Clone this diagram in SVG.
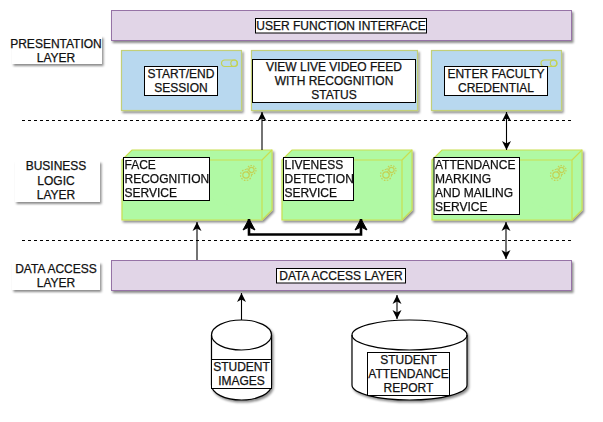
<svg xmlns="http://www.w3.org/2000/svg" width="603" height="422" viewBox="0 0 603 422">
<style>
text{font-family:"Liberation Sans",Arial,sans-serif;font-size:12px;fill:#111;stroke:#111;stroke-width:0.25;text-anchor:middle}
text.l{text-anchor:start}
.bar{fill:#e1d5e7;stroke:#9673a6;stroke-width:1;filter:url(#sh)}
.app{fill:#b8d8ef;stroke:#c3cf78;stroke-width:1.2;filter:url(#sh)}
.nd{fill:#b0f9a4;stroke:#c9df50;stroke-width:1.2}
.ndg{filter:url(#sh)}
.ic{fill:none;stroke:#c3d255;stroke-width:1.200}
.box{fill:#fff;stroke:#000;stroke-width:1}
.lab{fill:#fff;stroke:none;filter:url(#sh)}
.cyl{fill:#fff;stroke:#000;stroke-width:1.2;filter:url(#sh)}
.dash{stroke:#000;stroke-width:1;stroke-dasharray:3 3;fill:none}
.a{stroke:#000;stroke-width:1.100;fill:none}
.t{stroke:#000;stroke-width:2.6;fill:none}
</style>
<defs>
<filter id="sh" x="-10%" y="-20%" width="125%" height="145%"><feDropShadow dx="1.5" dy="2" stdDeviation="1.200" flood-color="#000" flood-opacity="0.45"/></filter>
<marker id="e" markerUnits="userSpaceOnUse" markerWidth="10" markerHeight="10" refX="9" refY="5" orient="auto-start-reverse"><path d="M0,0.5 L9,5 L0,9.500 L2.500,5Z" fill="#000"/></marker>
<marker id="eb" markerUnits="userSpaceOnUse" markerWidth="14" markerHeight="16" refX="12" refY="8" orient="auto-start-reverse"><path d="M1,2 L12,8 L1,14 L4,8Z" fill="#000" stroke="#000"/></marker>
<g id="gear"><circle cx="0" cy="0" r="3.200" class="ic"/><circle cx="0" cy="0" r="5.500" class="ic" stroke-dasharray="1.600 1.400"/><circle cx="5.500" cy="-5" r="2.600" class="ic"/><circle cx="5.500" cy="-5" r="4.500" class="ic" stroke-dasharray="1.500 1.300"/></g>
<g id="tog"><rect x="0" y="0" width="16" height="6.500" rx="3.200" class="ic"/><circle cx="12.500" cy="3.200" r="3.200" class="ic"/></g>
</defs>
<rect width="603" height="422" fill="#fff"/>
<g id="layer-labels">
<g id="label-presentation"><rect class="lab" x="12" y="36" width="90" height="28"/><text x="56" y="48">PRESENTATION</text><text x="56" y="62">LAYER</text></g>
<g id="label-business"><rect class="lab" x="15" y="161" width="85" height="41"/><text x="56" y="170">BUSINESS</text><text x="56" y="185">LOGIC</text><text x="56" y="199">LAYER</text></g>
<g id="label-data"><rect class="lab" x="12" y="262" width="88" height="28"/><text x="56" y="273">DATA ACCESS</text><text x="56" y="287">LAYER</text></g>
</g>
<g id="user-function-interface"><rect class="bar" x="111.500" y="10.500" width="460" height="30"/><rect class="box" x="255.500" y="18.500" width="171" height="14.500"/><text x="341" y="30">USER FUNCTION INTERFACE</text></g>
<g id="start-end"><rect class="app" x="121.500" y="50.500" width="120" height="60"/><use href="#tog" x="221.500" y="60"/><rect class="box" x="144.500" y="66.500" width="73" height="29"/><text x="181" y="78">START/END</text><text x="181" y="92">SESSION</text></g>
<g id="live-feed"><rect class="app" x="251.500" y="50.500" width="166" height="60"/><rect class="box" x="252.500" y="59.500" width="163" height="43"/><text x="334" y="71">VIEW LIVE VIDEO FEED</text><text x="334" y="85">WITH RECOGNITION</text><text x="334" y="99">STATUS</text></g>
<g id="faculty"><rect class="app" x="431.500" y="50.500" width="130" height="60"/><use href="#tog" x="541" y="60"/><rect class="box" x="444.500" y="66.500" width="103" height="29"/><text x="496" y="78">ENTER FACULTY</text><text x="496" y="92">CREDENTIAL</text></g>
<g id="face" class="ndg"><path class="nd" d="M122,160 L132,150 H272 V210 L262,220 H122Z"/><path class="nd" d="M122,160 H262 V220 M262,160 L272,150"/><use href="#gear" x="246" y="175"/><rect class="box" x="123.500" y="157.500" width="86" height="43"/><text class="l" x="124.500" y="169">FACE</text><text class="l" x="124.500" y="183">RECOGNITION</text><text class="l" x="124.500" y="197">SERVICE</text></g>
<g id="liveness" class="ndg"><path class="nd" d="M282,160 L292,150 H412 V210 L402,220 H282Z"/><path class="nd" d="M282,160 H402 V220 M402,160 L412,150"/><use href="#gear" x="386" y="175"/><rect class="box" x="283.500" y="157.500" width="70" height="43"/><text class="l" x="284.500" y="169">LIVENESS</text><text class="l" x="284.500" y="183">DETECTION</text><text class="l" x="284.500" y="197">SERVICE</text></g>
<g id="attendance" class="ndg"><path class="nd" d="M432,160 L442,150 H582 V210 L572,220 H432Z"/><path class="nd" d="M432,160 H572 V220 M572,160 L582,150"/><use href="#gear" x="556" y="175"/><rect class="box" x="434" y="157.500" width="85.500" height="57"/><text class="l" x="435" y="169">ATTENDANCE</text><text class="l" x="435" y="183">MARKING</text><text class="l" x="435" y="197">AND MAILING</text><text class="l" x="435" y="211">SERVICE</text></g>
<g id="data-access-layer"><rect class="bar" x="111.500" y="260.500" width="460" height="30"/><rect class="box" x="276.500" y="268.500" width="129" height="14.500"/><text x="341" y="280">DATA ACCESS LAYER</text></g>
<g id="student-images"><path class="cyl" d="M211.500,335 A30,15 0 0 1 271.500,335 V385 A30,15 0 0 1 211.500,385Z"/><path d="M211.500,335 A30,15 0 0 0 271.500,335" fill="none" stroke="#000" stroke-width="1.200"/><rect class="box" x="211.500" y="359.500" width="60" height="29"/><text x="241.500" y="371">STUDENT</text><text x="241.500" y="385">IMAGES</text></g>
<g id="attendance-report"><path class="cyl" d="M352,335 A57.500,15 0 0 1 467,335 V385 A57.500,15 0 0 1 352,385Z"/><path d="M352,335 A57.500,15 0 0 0 467,335" fill="none" stroke="#000" stroke-width="1.200"/><rect class="box" x="367.500" y="352.500" width="82" height="43"/><text x="408.500" y="364">STUDENT</text><text x="408.500" y="378">ATTENDANCE</text><text x="408.500" y="392">REPORT</text></g>
<g id="connectors">
<path class="dash" d="M22,120.500 H572"/>
<path class="dash" d="M22,240.500 H572"/>
<path class="a" marker-end="url(#e)" d="M262,150 V112"/>
<path class="a" marker-start="url(#e)" marker-end="url(#e)" d="M506.500,150 V112"/>
<path class="a" marker-end="url(#e)" d="M197,260 V222"/>
<path class="a" marker-start="url(#e)" marker-end="url(#e)" d="M506,222 V259"/>
<path class="t" marker-start="url(#eb)" marker-end="url(#eb)" d="M249,219 V234.500 H361 V219"/>
<path class="a" marker-end="url(#e)" d="M241.500,320 V293"/>
<path class="a" marker-start="url(#e)" marker-end="url(#e)" d="M397,295 V319"/>
</g>
</svg>
